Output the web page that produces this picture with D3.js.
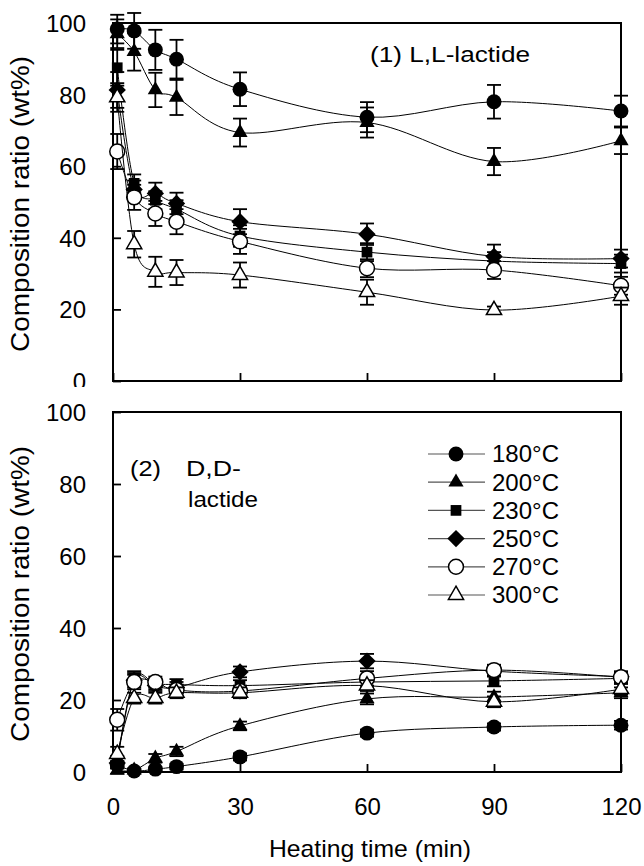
<!DOCTYPE html>
<html><head><meta charset="utf-8">
<script src="https://cdn.jsdelivr.net/npm/d3@7"></script>
<style>
body{margin:0;background:#fff}
svg{display:block}
text{font-family:"Liberation Sans",Arial,sans-serif;fill:#000}
</style>
</head><body>
<svg id="c" width="644" height="866"></svg>
<script>
// ---- data ----
const times = [1, 5, 10, 15, 30, 60, 90, 120];
const seriesNames = ["180°C", "200°C", "230°C", "250°C", "270°C", "300°C"];
const xTicks = [0, 30, 60, 90, 120];
const yTicks = [0, 20, 40, 60, 80, 100];

// (1) L,L-lactide
const ll180 = [98.3, 97.8, 92.5, 89.9, 81.5, 73.7, 78.0, 75.4];
const ll200 = [97.0, 92.0, 81.3, 79.2, 69.4, 72.2, 61.3, 67.1];
const ll230 = [87.5, 55.2, 50.5, 48.0, 40.5, 36.0, 33.5, 32.8];
const ll250 = [81.3, 53.5, 52.4, 49.6, 44.5, 41.0, 34.8, 34.2];
const ll270 = [64.1, 51.3, 46.8, 44.5, 39.0, 31.5, 31.0, 26.6];
const ll300 = [79.2, 38.2, 30.5, 30.3, 29.6, 24.8, 19.8, 23.7];
const llErr180 = [4, 5, 5.6, 5.4, 4.7, 4.2, 4.7, 4.3];
const llErr200 = [4, 5.3, 4.8, 4.9, 3.9, 4.2, 3.8, 3.7];
const llErr230 = [5, 2.5, 2.5, 2.5, 3, 2.5, 2.5, 2.5];
const llErr250 = [5, 2.5, 3, 3, 3.5, 3, 3.3, 2.5];
const llErr270 = [4.9, 3.5, 3.5, 3.5, 3.5, 2.5, 2.5, 2.5];
const llErr300 = [4, 3.7, 4.2, 3.5, 3.5, 3.5, 1, 2.4];

// (2) D,D-lactide
const dd180 = [2.0, 0.3, 0.8, 1.5, 4.2, 10.8, 12.5, 13.0];
const dd200 = [0.5, 0.5, 3.8, 5.7, 12.8, 20.3, 20.8, 22.0];
const dd230 = [3.0, 26.0, 24.5, 24.3, 24.0, 25.0, 25.3, 26.0];
const dd250 = [2.5, 25.5, 24.0, 23.5, 27.8, 30.8, 28.0, 26.5];
const dd270 = [14.5, 25.0, 25.0, 22.8, 22.5, 26.0, 28.3, 26.3];
const dd300 = [5.0, 20.5, 20.5, 22.0, 22.0, 24.0, 19.5, 23.0];
const ddErr180 = [1, 0.5, 0.5, 0.8, 1, 1, 1, 1.2];
const ddErr200 = [1, 0.5, 1.2, 1.3, 1.2, 1.5, 1.5, 1.5];
const ddErr230 = [1.5, 2, 1.5, 1.5, 1.5, 1.5, 1.5, 1.5];
const ddErr250 = [1.5, 2, 1.5, 1.5, 1.5, 2, 1.5, 1.5];
const ddErr270 = [3, 2, 1.5, 1.5, 1.5, 2, 1.5, 1.5];
const ddErr300 = [2, 1.5, 1.5, 1.5, 1.5, 1.5, 1.5, 1.5];

// ---- styling per series ----
const symTypes = [d3.symbolCircle, d3.symbolTriangle, d3.symbolSquare, d3.symbolSquare, d3.symbolCircle, d3.symbolTriangle];
const symSizes = [175, 100, 115, 150, 175, 100];
const symRot = [0, 0, 0, 45, 0, 0];
const filled = [true, true, true, true, false, false];

const svg = d3.select("#c");
const x = d3.scaleLinear().domain([0, 120]).range([113, 621]);

function marker(sel, s, tx, ty) {
  sel.attr("transform", `translate(${tx},${ty}) rotate(${symRot[s]})`)
    .attr("d", d3.symbol().type(symTypes[s]).size(symSizes[s]))
    .attr("fill", filled[s] ? "#000" : "#fff")
    .attr("stroke", "#000").attr("stroke-width", filled[s] ? 0 : 1.5);
}

function panel(yRange, values, errors, showXLabels) {
  const y = d3.scaleLinear().domain([0, 100]).range(yRange);
  const g = svg.append("g");
  const ya = g.append("g").attr("transform", `translate(${x(0)},0)`)
    .call(d3.axisLeft(y).tickValues(yTicks).tickSizeInner(-8).tickSizeOuter(0).tickPadding(27));
  ya.select(".domain").remove();
  ya.selectAll(".tick line").attr("stroke", "#000").attr("stroke-width", 1.8);
  ya.selectAll(".tick text").attr("font-size", 24).attr("dy", "0.35em")
    .style("font-family", '"Liberation Sans",Arial,sans-serif');
  const xa = g.append("g").attr("transform", `translate(0,${y(0)})`)
    .call(d3.axisBottom(x).tickValues(xTicks).tickSizeInner(-8).tickSizeOuter(0).tickPadding(26));
  xa.select(".domain").remove();
  xa.selectAll(".tick line").attr("stroke", "#000").attr("stroke-width", 1.8);
  xa.selectAll(".tick text").attr("font-size", 24)
    .style("font-family", '"Liberation Sans",Arial,sans-serif')
    .style("display", showXLabels ? null : "none");
  g.append("rect").attr("x", x(0)).attr("y", y(100))
    .attr("width", x(120) - x(0)).attr("height", y(0) - y(100))
    .attr("fill", "none").attr("stroke", "#000").attr("stroke-width", 2);

  const line = d3.line().x((d, i) => x(times[i])).y(d => y(d)).curve(d3.curveCardinal.tension(0));
  values.forEach((vals, s) => {
    const sg = g.append("g");
    vals.forEach((v, i) => {
      const e = errors[s][i];
      const cx = x(times[i]);
      sg.append("line").attr("x1", cx).attr("x2", cx).attr("y1", y(v - e)).attr("y2", y(v + e))
        .attr("stroke", "#000").attr("stroke-width", 1.8);
      [v - e, v + e].forEach(ev => sg.append("line").attr("x1", cx - 7).attr("x2", cx + 7)
        .attr("y1", y(ev)).attr("y2", y(ev)).attr("stroke", "#000").attr("stroke-width", 1.8));
    });
    sg.append("path").attr("d", line(vals)).attr("fill", "none").attr("stroke", "#000").attr("stroke-width", 1);
    vals.forEach((v, i) => marker(sg.append("path"), s, x(times[i]), y(v)));
  });
  return y;
}

const yTop = panel([381, 23], [ll180, ll200, ll230, ll250, ll270, ll300],
  [llErr180, llErr200, llErr230, llErr250, llErr270, llErr300], false);
// lower chart overlaps the upper chart's "0" label
svg.append("rect").attr("x", 0).attr("y", 387).attr("width", 644).attr("height", 18).attr("fill", "#fff");
const yBot = panel([772, 412], [dd180, dd200, dd230, dd250, dd270, dd300],
  [ddErr180, ddErr200, ddErr230, ddErr250, ddErr270, ddErr300], true);

// axis titles
[yTop, yBot].forEach(y => {
  const cy = (y(0) + y(100)) / 2 + 2;
  svg.append("text").attr("transform", `translate(20,${cy}) rotate(-90)`)
    .attr("text-anchor", "middle").attr("dy", "0.35em").attr("font-size", 25)
    .attr("textLength", 296).attr("lengthAdjust", "spacingAndGlyphs")
    .text("Composition ratio (wt%)");
});
svg.append("text").attr("x", 370).attr("y", 857).attr("text-anchor", "middle")
  .attr("font-size", 24).attr("textLength", 202).attr("lengthAdjust", "spacingAndGlyphs")
  .text("Heating time (min)");

// panel labels
function label(txt, lx, ly, len) {
  svg.append("text").attr("x", lx).attr("y", ly).attr("font-size", 22)
    .attr("textLength", len).attr("lengthAdjust", "spacingAndGlyphs").text(txt);
}
label("(1) L,L-lactide", 370, 62, 160);
label("(2)", 130, 476, 31);
label("D,D-", 186, 476, 55);
label("lactide", 188, 507, 70);

// legend
const lg = svg.append("g");
seriesNames.forEach((name, s) => {
  const ly = 454 + 28.2 * s;
  lg.append("line").attr("x1", 428).attr("x2", 485).attr("y1", ly).attr("y2", ly)
    .attr("stroke", "#555").attr("stroke-width", 1.2);
  marker(lg.append("path"), s, 456, ly);
  lg.append("text").attr("x", 492).attr("y", ly).attr("dy", "0.35em").attr("font-size", 24).text(name);
});
</script>
</body></html>
